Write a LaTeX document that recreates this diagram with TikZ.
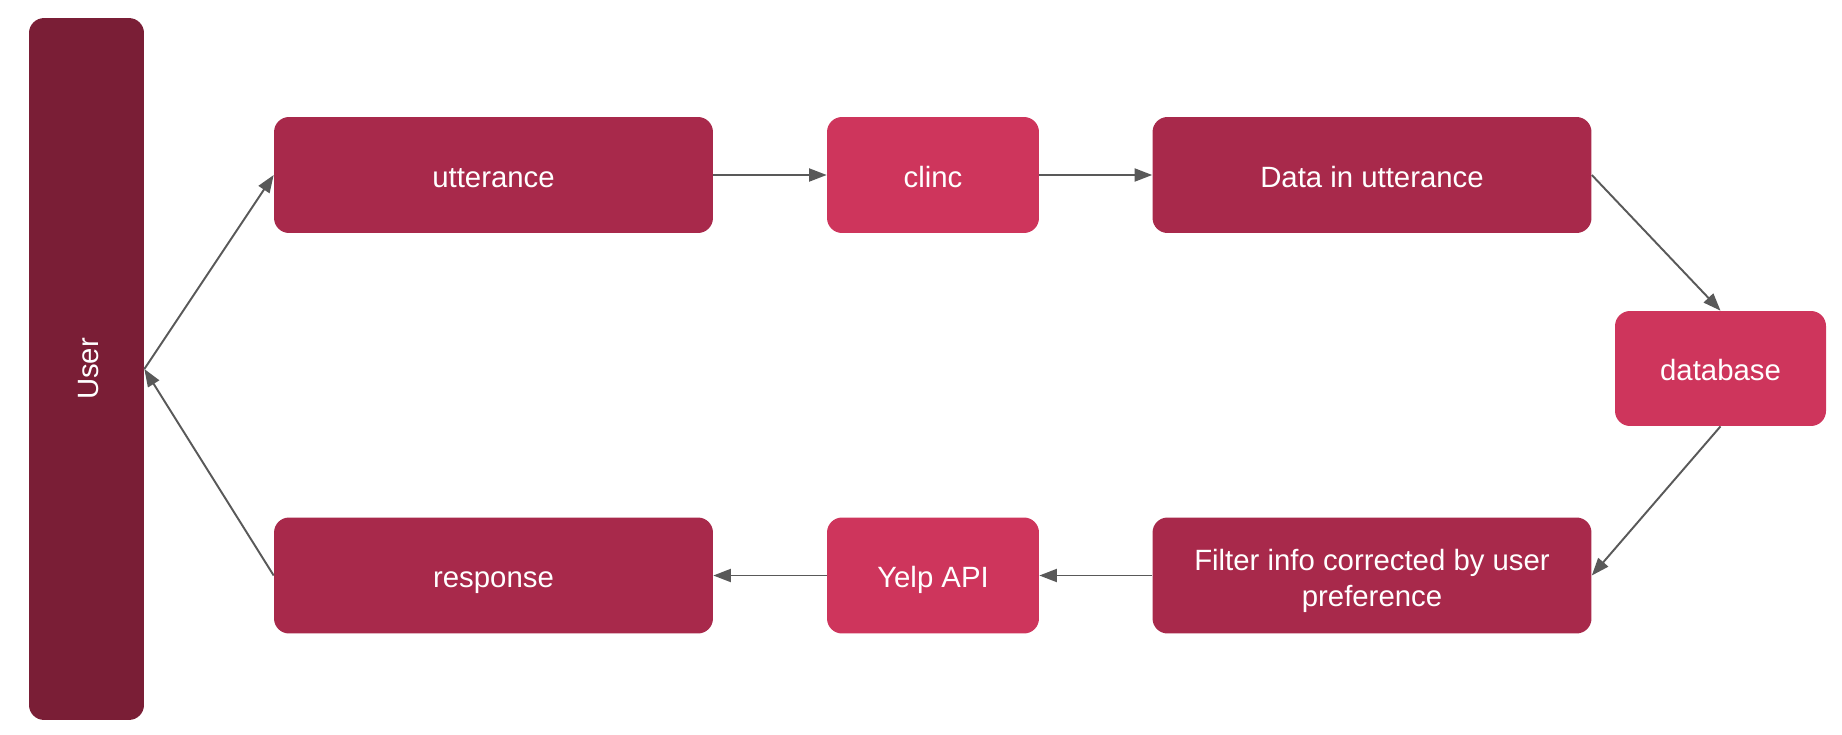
\documentclass[tikz,border=0pt]{standalone}
\usepackage{fontspec}
\setmainfont{Liberation Sans}
\usetikzlibrary{arrows.meta}
\definecolor{userred}{HTML}{7A1E36}
\definecolor{midred}{HTML}{A8294B}
\definecolor{lightred}{HTML}{CE355C}
\definecolor{arrowgray}{HTML}{595959}
\begin{document}
\begin{tikzpicture}[x=0.02cm,y=-0.02cm,
  box/.style={rounded corners=0.3cm, text=white, inner sep=0pt, align=center,
    text height=15pt, text depth=1pt, font=\fontsize{16.7}{20.6}\selectfont},
  widebox/.style={box, fill=midred, minimum width=8.78cm, minimum height=2.32cm},
  smallbox/.style={box, fill=lightred, minimum width=4.24cm, minimum height=2.32cm},
  label/.style={text=white, inner sep=0pt, align=center, font=\fontsize{16.7}{20.6}\selectfont},
  flow/.style={draw=arrowgray, line width=1.1pt, -{Triangle[length=10pt,width=7.4pt]}}]
\useasboundingbox (0,0) rectangle (1842,734);
\node [box, fill=userred, minimum width=2.3cm, minimum height=14.04cm] (user) at (86.5,369) {};
\node [label, rotate=90, text height=15pt, text depth=1pt] (usertext) at (user.center) {User};
\node [widebox] (utterance) at (493.5,175) {utterance};
\node [smallbox] (clinc) at (933,175) {clinc};
\node [widebox] (data) at (1372,175) {Data in utterance};
\node [smallbox, minimum width=4.22cm, minimum height=2.3cm] (database) at (1720.5,368.5) {database};
\node [widebox] (filter) at (1372,575.5) {};
\node [label, yshift=-3.3pt] (filtertext) at (filter.center) {Filter info corrected by user\\preference};
\node [smallbox] (yelp) at (933,575.5) {Yelp API};
\node [widebox] (response) at (493.5,575.5) {response};
\draw [flow] (user.east) -- (utterance.west);
\draw [flow] (utterance) -- (clinc);
\draw [flow] (clinc) -- (data);
\draw [flow] (data.east) -- (database.north);
\draw [flow] (database.south) -- (filter.east);
\draw [flow] (filter) -- (yelp);
\draw [flow] (yelp) -- (response);
\draw [flow] (response.west) -- (user.east);
\end{tikzpicture}
\end{document}
